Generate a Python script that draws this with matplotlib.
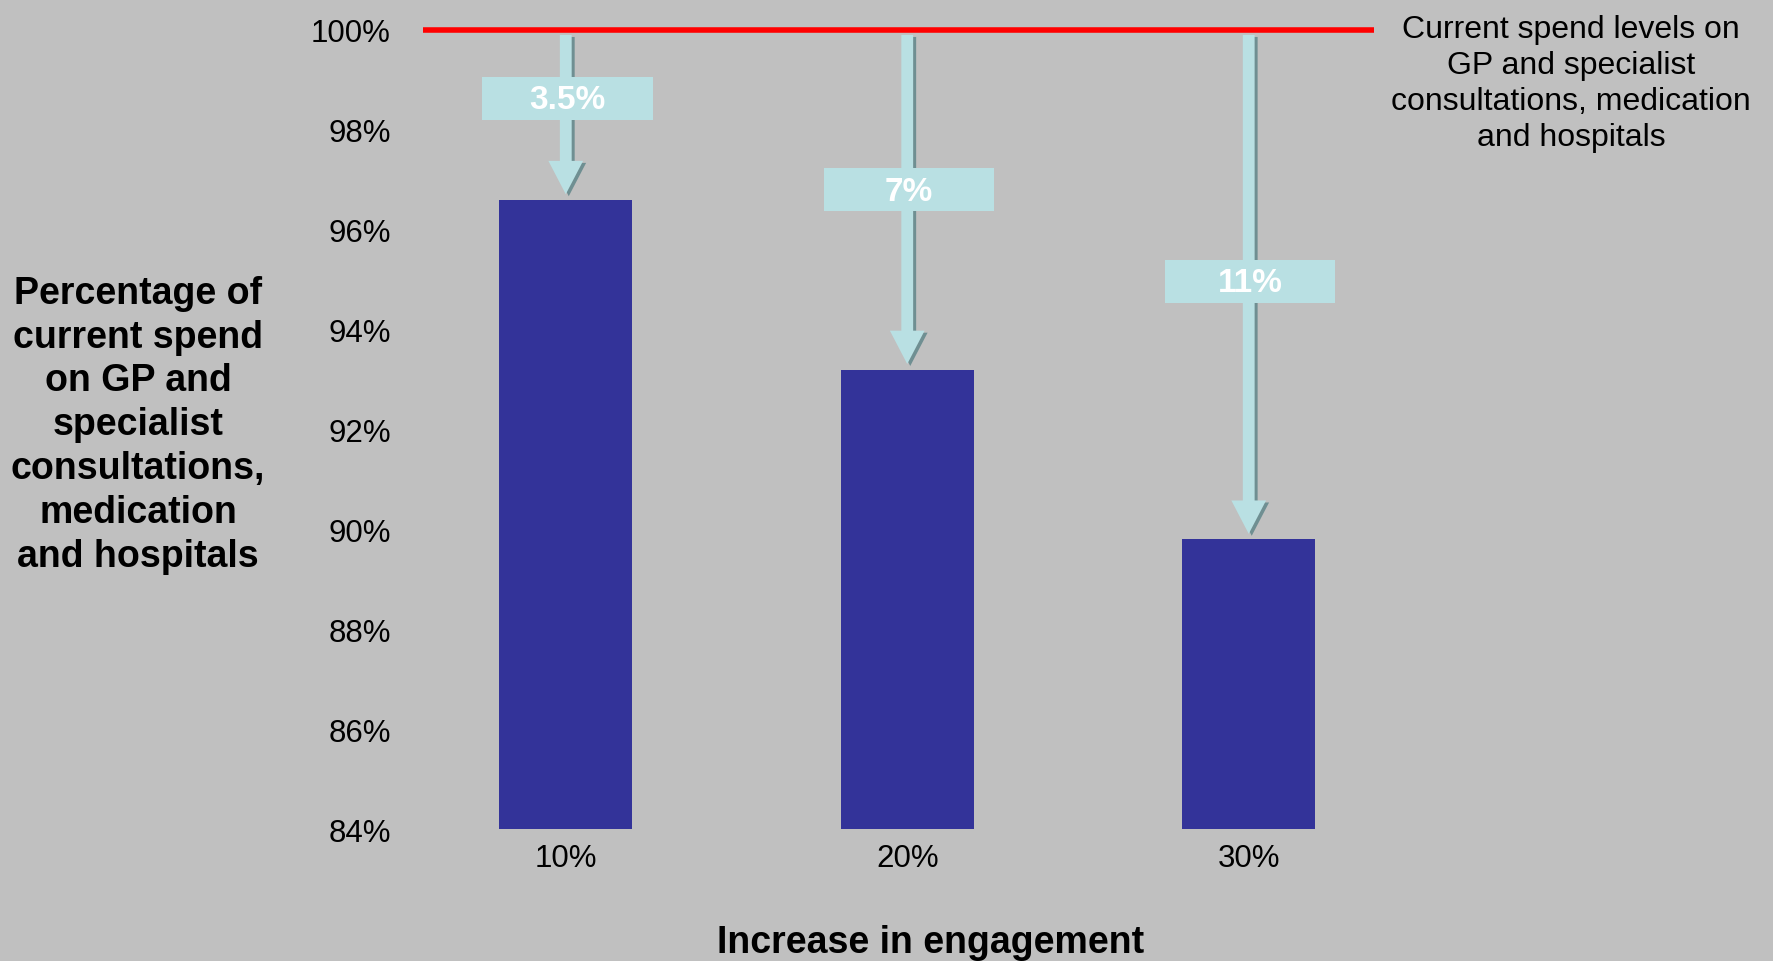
import matplotlib
matplotlib.use("Agg")
import matplotlib.pyplot as plt
from matplotlib.patches import Rectangle
from matplotlib.transforms import offset_copy

plt.rcParams["font.family"] = ["Liberation Sans", "DejaVu Sans"]

# data
engagement = ["10%", "20%", "30%"]
spend_pct = [96.6, 93.2, 89.8]
saving_labels = ["3.5%", "7%", "11%"]
yticks = [84, 86, 88, 90, 92, 94, 96, 98, 100]

bg = "#c0c0c0"
bar_col = "#333399"
arrow_col = "#b9e0e3"
shadow_col = "#6f8f92"

fig = plt.figure(figsize=(17.73, 9.62), dpi=100, facecolor=bg)
ax = fig.add_axes([0.2228, 0.1372, 0.5778, 0.8306])
ax.set_facecolor(bg)

x = list(range(len(engagement)))
ax.bar(x, spend_pct, width=0.39, color=bar_col, zorder=2)

ax.set_xlim(-0.5, 2.5)
ax.set_ylim(84, 100)
ax.set_xticks(x)
ax.set_xticklabels(engagement)
ax.set_yticks(yticks)
ax.set_yticklabels([f"{v}%" for v in yticks])
ax.tick_params(axis="both", length=0, labelsize=22.5, colors="black")
ax.tick_params(axis="x", pad=10)
ax.tick_params(axis="y", pad=3)
for s in ax.spines.values():
    s.set_visible(False)

# arrows from 100% down to each bar, with a dark drop shadow
shadow_tr = offset_copy(ax.transData, fig=fig, x=3, y=-2, units="dots")
style = "simple,head_length=24,head_width=25,tail_width=8.5"
for i, v in enumerate(spend_pct):
    ax.annotate("", xy=(i, v), xytext=(i, 99.9), xycoords=shadow_tr, textcoords=shadow_tr,
                arrowprops=dict(arrowstyle=style, mutation_scale=1, color=shadow_col,
                                shrinkA=0, shrinkB=4, lw=0), zorder=3)
    ax.annotate("", xy=(i, v), xytext=(i, 99.9),
                arrowprops=dict(arrowstyle=style, mutation_scale=1, color=arrow_col,
                                shrinkA=0, shrinkB=4, lw=0), zorder=4)
    # label box
    ly = 98.63 - 1.83 * i
    ax.add_patch(Rectangle((i - 0.244, ly - 0.43), 0.498, 0.86, facecolor=arrow_col,
                           edgecolor="none", zorder=5, clip_on=False))
    ax.text(i + 0.005, ly - 0.03, saving_labels[i], ha="center", va="center", color="white",
            fontsize=24, fontweight="bold", zorder=6)

# current spend reference line
ax.plot([-0.418, 2.368], [100, 100], color="#ff0000", lw=4, zorder=7,
        clip_on=False, solid_capstyle="butt")

fig.text(0.886, 0.913, "Current spend levels on\nGP and specialist\nconsultations, medication\nand hospitals",
         ha="center", va="center", fontsize=23, linespacing=1.26)
fig.text(0.0778, 0.558, "Percentage of\ncurrent spend\non GP and\nspecialist\nconsultations,\nmedication\nand hospitals",
         ha="center", va="center", fontsize=27, fontweight="bold", linespacing=1.28)
fig.text(0.525, 0.0094, "Increase in engagement", ha="center", va="baseline",
         fontsize=27, fontweight="bold")

fig.savefig("out.png", dpi=100, facecolor=bg)
